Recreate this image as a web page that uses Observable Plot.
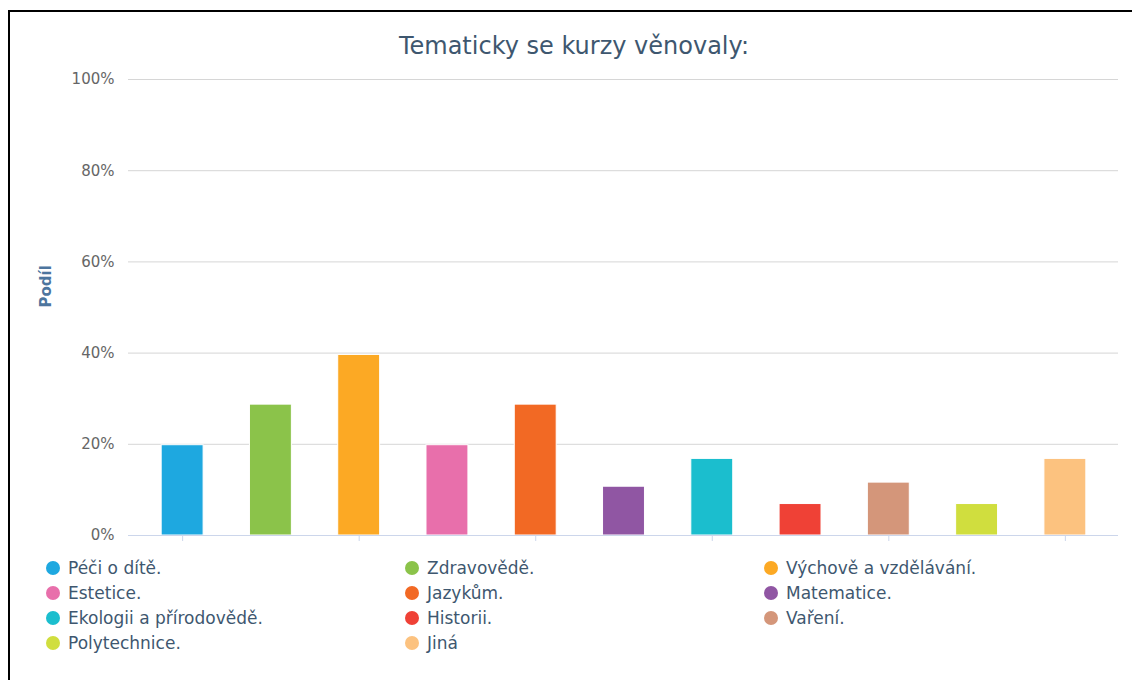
<!DOCTYPE html>
<html>
<head>
<meta charset="utf-8">
<script src="https://cdn.jsdelivr.net/npm/d3@7"></script>
<script src="https://cdn.jsdelivr.net/npm/@observablehq/plot@0.6"></script>
<style>
  html, body { margin: 0; padding: 0; background: #fff; overflow: hidden; }
  body { width: 1132px; height: 680px; position: relative; font-family: "DejaVu Sans", sans-serif; }
  #frame { position: absolute; left: 8px; top: 10px; width: 1300px; height: 800px;
           border-top: 2px solid #000; border-left: 2px solid #000; box-sizing: border-box; }
  #title { position: absolute; left: 574px; top: 32px; transform: translateX(-50%);
           font-size: 24px; line-height: 28px; color: #3e576f; white-space: nowrap; }
  #chart { position: absolute; left: 0; top: 60px; }
  #legend { position: absolute; left: 46px; top: 555px; display: grid;
            grid-template-columns: 359px 359px 359px; grid-auto-rows: 25px; }
  .item { display: flex; align-items: center; font-size: 17px; color: #3e576f; white-space: nowrap; }
  .sw { width: 14px; height: 14px; border-radius: 50%; margin-right: 8px; flex: none; }
</style>
</head>
<body>
<div id="frame"></div>
<div id="title"></div>
<div id="chart"></div>
<div id="legend"></div>
<script>
const titleText = "Tematicky se kurzy věnovaly:";
const yLabel = "Podíl";
const categories = [
  "Péči o dítě.", "Zdravovědě.", "Výchově a vzdělávání.", "Estetice.", "Jazykům.",
  "Matematice.", "Ekologii a přírodovědě.", "Historii.", "Vaření.", "Polytechnice.", "Jiná"
];
const values = [19.8, 28.7, 39.6, 19.8, 28.7, 10.7, 16.8, 6.9, 11.6, 6.9, 16.8];
const palette = ["#1ea8e0", "#8bc34a", "#fca924", "#e86fab", "#f26924", "#9056a3",
                 "#1bbece", "#ef4136", "#d4967a", "#d0de3e", "#fcc27f"];
const yTicks = [0, 20, 40, 60, 80, 100];

const data = categories.map((c, i) => ({cat: c, value: values[i]}));

document.getElementById("title").textContent = titleText;

const chart = Plot.plot({
  width: 1132,
  height: 490,
  marginLeft: 128,
  marginRight: 14,
  marginTop: 19,
  marginBottom: 15,
  style: {fontFamily: "DejaVu Sans", background: "transparent"},
  x: {type: "band", domain: categories, paddingInner: 0.525, paddingOuter: 0.2625,
      insetLeft: 10, insetRight: 9, round: false},
  y: {domain: [0, 100]},
  color: {domain: categories, range: palette},
  marks: [
    Plot.ruleY(yTicks.filter(d => d > 0), {stroke: "#d6d6d6", strokeWidth: 1}),
    Plot.barY(data, {x: "cat", y: "value", fill: "cat", stroke: "#ffffff", strokeWidth: 1}),
    Plot.ruleY([0], {stroke: "#ccd6eb", strokeWidth: 1}),
    Plot.axisX({ticks: categories.filter((d, i) => i % 2 === 0), tickSize: 6, tickFormat: () => "",
                stroke: "#ccd6eb", label: null}),
    Plot.axisY({ticks: yTicks, tickSize: 0, tickPadding: 14, tickFormat: d => d + "%",
                fontSize: 15, fill: "#666666", label: null}),
    Plot.text([yLabel], {frameAnchor: "left", dx: -82, rotate: -90, fontSize: 15,
                         fontWeight: "bold", fill: "#4d759e", text: d => d})
  ]
});
document.getElementById("chart").appendChild(chart);

const legend = document.getElementById("legend");
categories.forEach((c, i) => {
  const it = document.createElement("div");
  it.className = "item";
  const sw = document.createElement("span");
  sw.className = "sw";
  sw.style.background = palette[i];
  const tx = document.createElement("span");
  tx.textContent = c;
  it.appendChild(sw);
  it.appendChild(tx);
  legend.appendChild(it);
});
</script>
</body>
</html>
